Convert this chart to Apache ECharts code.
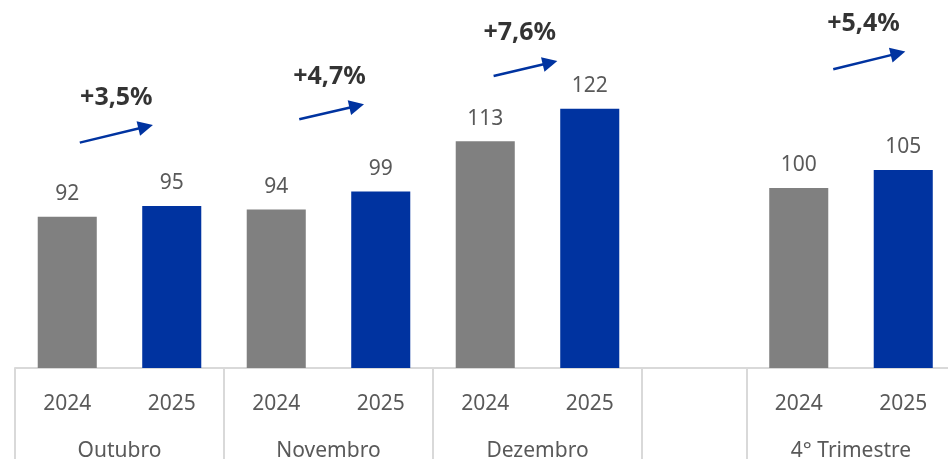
<!DOCTYPE html>
<html>
<head>
<meta charset="utf-8">
<script src="https://cdn.jsdelivr.net/npm/echarts@6/dist/echarts.min.js"></script>
<style>
  html, body { margin: 0; padding: 0; background: #fff; }
  #chart_content { width: 948px; height: 459px; }
</style>
</head>
<body>
<div id="chart_content"></div>
<script>
// data
const years = ['2024', '2025'];
const groups = ['Outubro', 'Novembro', 'Dezembro', '4° Trimestre'];
const values2024 = [92, 94, 113, 100];
const values2025 = [95, 99, 122, 105];
const growthLabels = ['+3,5%', '+4,7%', '+7,6%', '+5,4%'];
const gapBeforeGroup = 3; // empty slot before "4° Trimestre"

// annotation placement, in axis units (x: category slots, y: value)
// end point is the centre of the arrow head
const arrowLayout = [
    [0.62, 112.6, 1.25, 117.0],
    [2.72, 119.1, 3.27, 122.8],
    [4.58, 131.1, 5.12, 134.8],
    [7.83, 133.0, 8.45, 137.4]
];
const growthTextPos = [
    [0.97, 125.0],
    [3.01, 130.9],
    [4.83, 143.0],
    [8.12, 145.6]
];

const GREY = '#808080';
const BLUE = '#0033a0';
const FONT = 'Noto Sans';

// build category slots
let categories = [];
let barData = [];
let boundaries = [];
let groupCenters = {};
groups.forEach(function (g, i) {
    if (i === gapBeforeGroup) {
        boundaries.push(categories.length);
        categories.push('');
        barData.push('-');
    }
    let start = categories.length;
    boundaries.push(start);
    groupCenters[start + 1] = g;
    [values2024[i], values2025[i]].forEach(function (v, k) {
        categories.push(years[k]);
        barData.push({ value: v, itemStyle: { color: k === 0 ? GREY : BLUE } });
    });
});
const slotCount = categories.length;

let chart = echarts.init(document.getElementById('chart_content'));
let option = {
    animation: false,
    grid: {
        left: 15,
        right: -7.5,
        top: 8,
        bottom: 91,
        containLabel: false,
        outerBoundsMode: 'none'
    },
    xAxis: [
        {
            type: 'category',
            data: categories,
            position: 'bottom',
            axisLine: { lineStyle: { color: '#d9d9d9', width: 2 } },
            axisTick: {
                show: true,
                length: 95,
                interval: function (idx) { return boundaries.indexOf(idx) >= 0; },
                lineStyle: { color: '#d9d9d9', width: 2 }
            },
            axisLabel: {
                interval: 0,
                margin: 26,
                color: '#595959',
                fontSize: 21,
                fontFamily: FONT
            }
        },
        {
            type: 'value',
            min: 0,
            max: slotCount,
            interval: 1,
            position: 'bottom',
            axisLine: { show: false },
            axisTick: { show: false },
            splitLine: { show: false },
            axisLabel: {
                margin: 73,
                color: '#595959',
                fontSize: 21,
                fontFamily: FONT,
                formatter: function (v) { return groupCenters[v] || ''; }
            }
        }
    ],
    yAxis: {
        type: 'value',
        min: 50,
        max: 150,
        show: false,
        splitLine: { show: false }
    },
    series: [
        {
            type: 'bar',
            data: barData,
            barWidth: '56.5%',
            label: {
                show: true,
                position: 'top',
                distance: 12,
                color: '#595959',
                fontSize: 21,
                fontFamily: FONT
            }
        },
        {
            type: 'lines',
            coordinateSystem: 'cartesian2d',
            xAxisIndex: 1,
            yAxisIndex: 0,
            symbol: ['none', 'triangle'],
            symbolSize: [14, 15],
            lineStyle: { color: BLUE, width: 2.5, opacity: 1, curveness: 0 },
            data: arrowLayout.map(function (a) {
                return { coords: [[a[0], a[1]], [a[2], a[3]]] };
            })
        },
        {
            type: 'scatter',
            xAxisIndex: 1,
            yAxisIndex: 0,
            symbolSize: 0.1,
            itemStyle: { color: 'rgba(0,0,0,0)' },
            label: {
                show: true,
                position: 'inside',
                color: '#000',
                fontSize: 25,
                fontWeight: 'bold',
                fontFamily: FONT,
                formatter: function (p) { return growthLabels[p.dataIndex]; }
            },
            data: growthTextPos
        }
    ]
};
chart.setOption(option);
</script>
</body>
</html>
